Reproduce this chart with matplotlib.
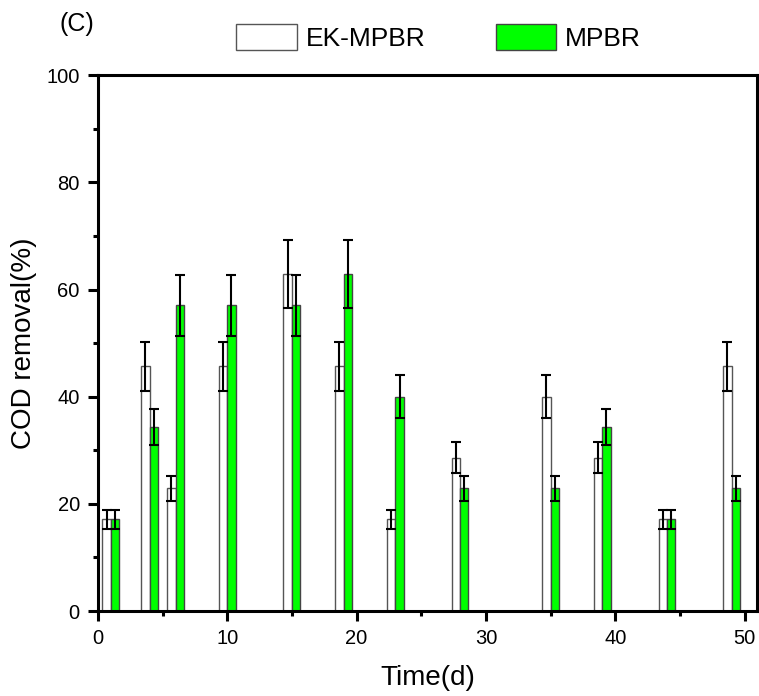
import numpy as np
import matplotlib
matplotlib.use("Agg")
import matplotlib.pyplot as plt
from matplotlib.ticker import MultipleLocator

plt.rcParams["font.family"] = ["Liberation Sans", "DejaVu Sans"]

# sampling days and COD removal (%) with error bars
days = [1, 4, 6, 10, 15, 19, 23, 28, 35, 39, 44, 49]
ek_mpbr = [17.1, 45.7, 22.9, 45.7, 62.9, 45.7, 17.1, 28.6, 40.0, 28.6, 17.1, 45.7]
ek_err = [1.7, 4.6, 2.3, 4.6, 6.3, 4.6, 1.7, 2.9, 4.0, 2.9, 1.7, 4.6]
mpbr = [17.1, 34.3, 57.1, 57.1, 57.1, 62.9, 40.0, 22.9, 22.9, 34.3, 17.1, 22.9]
mpbr_err = [1.7, 3.4, 5.7, 5.7, 5.7, 6.3, 4.0, 2.3, 2.3, 3.4, 1.7, 2.3]

labels = ["EK-MPBR", "MPBR"]
colors = ["white", "#00ff00"]

x = np.array(days, dtype=float)
w = 0.65

fig = plt.figure(figsize=(7.59, 6.96), dpi=100)
ax = fig.add_axes([0.129, 0.122, 0.869, 0.770])

err_kw = dict(ecolor="black", elinewidth=1.5, capsize=3.8, capthick=1.5)
b1 = ax.bar(x - w / 2, ek_mpbr, w, yerr=ek_err, color=colors[0],
            edgecolor="#555555", linewidth=1, error_kw=err_kw, label=labels[0])
b2 = ax.bar(x + w / 2, mpbr, w, yerr=mpbr_err, color=colors[1],
            edgecolor="#444444", linewidth=1, error_kw=err_kw, label=labels[1])

ax.set_xlim(0, 51)
ax.set_ylim(0, 100)
ax.xaxis.set_major_locator(MultipleLocator(10))
ax.xaxis.set_minor_locator(MultipleLocator(5))
ax.yaxis.set_major_locator(MultipleLocator(20))
ax.yaxis.set_minor_locator(MultipleLocator(10))

for s in ax.spines.values():
    s.set_linewidth(2.2)
ax.tick_params(which="major", direction="out", length=7, width=2.2,
               labelsize=14.5, pad=6)
ax.tick_params(which="minor", direction="out", length=3.5, width=2.2)

ax.set_xlabel("Time(d)", fontsize=20, labelpad=12)
ax.set_ylabel("COD removal(%)", fontsize=20, labelpad=7)

fig.legend(handles=[b1.patches[0], b2.patches[0]], labels=labels,
           loc="center", bbox_to_anchor=(0.578, 0.946), ncol=2, frameon=False,
           fontsize=19, handlelength=2.3, handleheight=1.15,
           handletextpad=0.34, columnspacing=2.65)
fig.text(0.079, 0.965, "(C)", fontsize=18, ha="left", va="center")

fig.savefig("out.png", dpi=100)
